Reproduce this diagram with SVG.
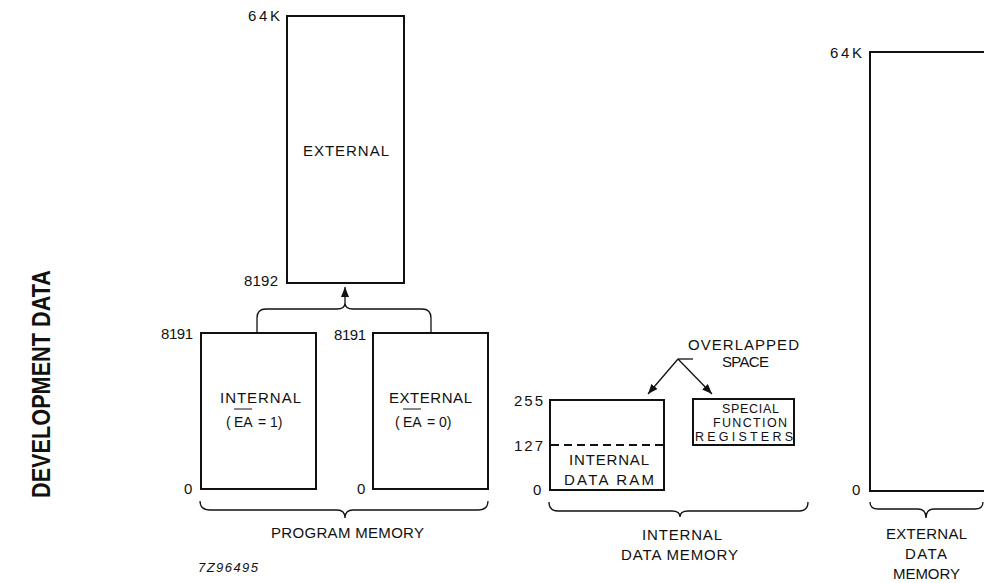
<svg xmlns="http://www.w3.org/2000/svg" width="984" height="583" viewBox="0 0 984 583">
  <style>
    .box { fill: none; stroke: #111; stroke-width: 2; }
    .conn { fill: none; stroke: #111; stroke-width: 1.3; }
    .t { font-family: "Liberation Sans", Arial, sans-serif; font-size: 15px; fill: #111; }
    .s { font-size: 12.5px; }
    .m { font-size: 14px; }
    .it { font-style: italic; font-size: 13px; }
    .title { font-family: "Liberation Sans", Arial, sans-serif; font-weight: bold; font-size: 25px; fill: #111; text-anchor: middle; }
  </style>
  <defs>
    <marker id="arr" viewBox="0 0 10 8" refX="10" refY="4" markerWidth="10" markerHeight="8" markerUnits="userSpaceOnUse" orient="auto">
      <path d="M0,0 L10,4 L0,8 Z" fill="#111"/>
    </marker>
  </defs>

  <rect width="984" height="583" fill="#fff"/>

  <text class="title" transform="translate(50,384) rotate(-90)" textLength="228" lengthAdjust="spacingAndGlyphs">DEVELOPMENT DATA</text>

  <g id="prog-external-upper">
    <rect class="box" x="287" y="16" width="117" height="267"/>
    <text class="t" x="248" y="21" textLength="32">64K</text>
    <text class="t" x="303" y="156" textLength="86">EXTERNAL</text>
    <text class="t" x="244" y="286" textLength="34">8192</text>
  </g>

  <g id="prog-internal">
    <rect class="box" x="201" y="333" width="115" height="156"/>
    <text class="t" x="161" y="339" textLength="32">8191</text>
    <text class="t" x="220" y="403" textLength="81">INTERNAL</text>
    <text class="t m" x="226" y="427">(</text>
    <text class="t m" x="234" y="427">EA</text>
    <line x1="234" y1="409" x2="252" y2="409" stroke="#111" stroke-width="1"/>
    <text class="t m" x="258" y="427">=</text>
    <text class="t m" x="270" y="427">1)</text>
    <text class="t" x="184" y="494">0</text>
  </g>

  <g id="prog-external-lower">
    <rect class="box" x="373" y="333" width="115" height="156"/>
    <text class="t" x="334" y="340" textLength="32">8191</text>
    <text class="t" x="389" y="403" textLength="83">EXTERNAL</text>
    <text class="t m" x="395" y="427">(</text>
    <text class="t m" x="403" y="427">EA</text>
    <line x1="403" y1="409" x2="421" y2="409" stroke="#111" stroke-width="1"/>
    <text class="t m" x="427" y="427">=</text>
    <text class="t m" x="439" y="427">0)</text>
    <text class="t" x="357" y="494">0</text>
  </g>

  <g id="internal-data-ram">
    <rect class="box" x="550" y="400" width="114" height="90"/>
    <line x1="551" y1="445" x2="663" y2="445" stroke="#111" stroke-width="1.8" stroke-dasharray="8,5"/>
    <text class="t" x="514" y="406" textLength="29">255</text>
    <text class="t" x="514" y="451" textLength="29">127</text>
    <text class="t" x="533" y="495">0</text>
    <text class="t" x="569" y="465" textLength="80">INTERNAL</text>
    <text class="t" x="564" y="485" textLength="90">DATA RAM</text>
  </g>

  <g id="sfr">
    <rect class="box" x="693" y="399" width="101" height="46"/>
    <text class="t s" x="722" y="413" textLength="57">SPECIAL</text>
    <text class="t s" x="713" y="427" textLength="74">FUNCTION</text>
    <text class="t s" x="695" y="441" textLength="98">REGISTERS</text>
  </g>

  <g id="overlapped-space">
    <text class="t" x="688" y="350" textLength="111">OVERLAPPED</text>
    <text class="t" x="722" y="367" textLength="47">SPACE</text>
  </g>

  <g id="external-data">
    <path class="box" d="M984,52 H870 V491 H984"/>
    <text class="t" x="830" y="58" textLength="32">64K</text>
    <text class="t" x="852" y="495">0</text>
  </g>

  <g id="connectors">
    <path class="conn" d="M257,333 L257,318 Q257,309 266,309 L337,309 Q345,309 345,303 Q345,309 353,309 L422,309 Q431,309 431,318 L431,333"/>
    <line class="conn" x1="345" y1="303" x2="345" y2="287" marker-end="url(#arr)"/>
    <line class="conn" x1="693" y1="359" x2="678" y2="359"/>
    <line class="conn" x1="678" y1="359" x2="648" y2="394" marker-end="url(#arr)"/>
    <line class="conn" x1="678" y1="359" x2="712" y2="394" marker-end="url(#arr)"/>
    <path class="conn" d="M200,501 Q200,510 210,510 L337,510 Q345,510 345,518 Q345,510 353,510 L478,510 Q488,510 488,501"/>
    <path class="conn" d="M549,502 Q549,511 558,511 L672,511 Q680,511 680,517 Q680,511 688,511 L799,511 Q808,511 808,502"/>
    <path class="conn" d="M870,502 Q870,509 878,509 L918,509 Q926,509 926,518 Q926,509 934,509 L975,509 Q983,509 983,502"/>
  </g>

  <g id="captions">
    <text class="t" x="271" y="538" textLength="153">PROGRAM MEMORY</text>
    <text class="t it" x="198" y="572" textLength="60">7Z96495</text>
    <text class="t" x="642" y="540" textLength="80">INTERNAL</text>
    <text class="t" x="621" y="560" textLength="117">DATA MEMORY</text>
    <text class="t" x="886" y="539" textLength="81">EXTERNAL</text>
    <text class="t" x="905" y="559" textLength="42">DATA</text>
    <text class="t" x="893" y="579" textLength="67">MEMORY</text>
  </g>
</svg>
